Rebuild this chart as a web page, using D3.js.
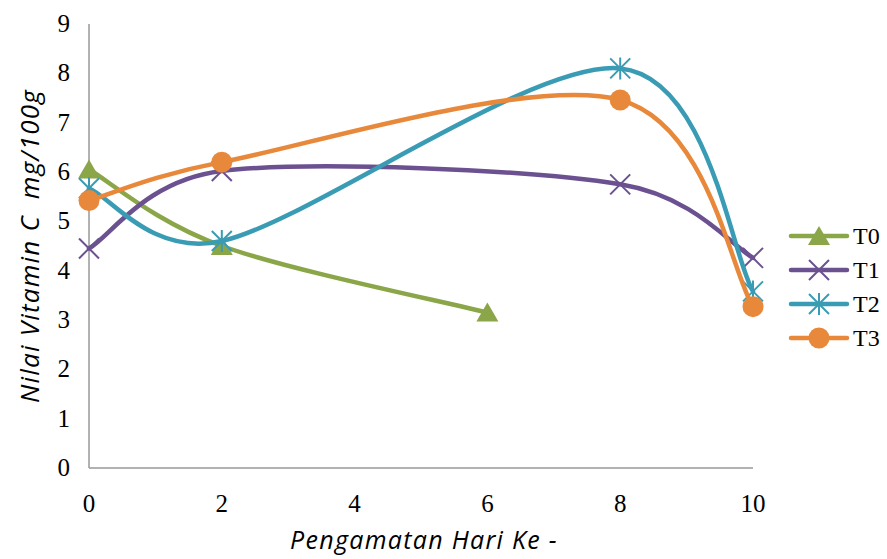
<!DOCTYPE html>
<html>
<head>
<meta charset="utf-8">
<script src="https://cdn.jsdelivr.net/npm/d3@7"></script>
<style>
  body { margin: 0; background: #fff; }
  svg { display: block; }
</style>
</head>
<body>
<svg width="887" height="559" viewBox="0 0 887 559"></svg>
<script>
// data
var seriesNames = ["T0", "T1", "T2", "T3"];
var t0 = [[0, 6.05], [2, 4.5], [6, 3.15]];
var t1 = [[0, 4.45], [2, 6.02], [8, 5.75], [10, 4.26]];
var t2 = [[0, 5.67], [2, 4.6], [8, 8.1], [10, 3.58]];
var t3 = [[0, 5.42], [2, 6.2], [8, 7.46], [10, 3.27]];
var xTicks = [0, 2, 4, 6, 8, 10];
var yTicks = [0, 1, 2, 3, 4, 5, 6, 7, 8, 9];

var colors = ["#8aa648", "#6c5191", "#3a9cb4", "#e8883a"];
var markers = ["triangle", "x", "star", "circle"];
var allSeries = [t0, t1, t2, t3];

var svg = d3.select("svg");

var x = d3.scaleLinear().domain([0, 10]).range([89, 753]);
var y = d3.scaleLinear().domain([0, 9]).range([468, 24]);

var serif = "'Liberation Serif', 'DejaVu Serif', serif";
var hand = "'Open Sans', 'DejaVu Sans', sans-serif";

// axes lines
svg.append("line")
  .attr("x1", x(0)).attr("x2", x(0))
  .attr("y1", y(9)).attr("y2", y(0))
  .attr("stroke", "#999").attr("stroke-width", 1.5);
svg.append("line")
  .attr("x1", x(0)).attr("x2", x(10))
  .attr("y1", y(0)).attr("y2", y(0))
  .attr("stroke", "#999").attr("stroke-width", 1.5);

// tick labels
svg.selectAll(".ytick")
  .data(yTicks)
  .enter()
  .append("text")
  .attr("class", "ytick")
  .attr("x", 70)
  .attr("y", function(d){ return y(d) })
  .attr("dy", 8)
  .attr("text-anchor", "end")
  .attr("font-family", serif)
  .attr("font-size", 25)
  .attr("fill", "#000")
  .text(function(d){ return d });

svg.selectAll(".xtick")
  .data(xTicks)
  .enter()
  .append("text")
  .attr("class", "xtick")
  .attr("x", function(d){ return x(d) })
  .attr("y", 512)
  .attr("text-anchor", "middle")
  .attr("font-family", serif)
  .attr("font-size", 25)
  .attr("fill", "#000")
  .text(function(d){ return d });

// axis titles
svg.append("text")
  .attr("transform", "translate(39,246) rotate(-90)")
  .attr("text-anchor", "middle")
  .attr("font-family", hand)
  .attr("font-style", "italic")
  .attr("font-size", 26)
  .attr("letter-spacing", 1.2)
  .attr("fill", "#000")
  .style("white-space", "pre")
  .text("Nilai Vitamin C  mg/100g");

svg.append("text")
  .attr("x", 424)
  .attr("y", 549)
  .attr("text-anchor", "middle")
  .attr("font-family", hand)
  .attr("font-style", "italic")
  .attr("font-size", 25)
  .attr("letter-spacing", 1.3)
  .attr("fill", "#000")
  .text("Pengamatan Hari Ke -");

// spreadsheet-style smoothing: bezier handles of 1/6, capped at half the segment
function smoothPath(data) {
  var pts = data.map(function(d){ return [x(d[0]), y(d[1])] });
  var n = pts.length;
  var p = d3.path();
  function dist(a, b) { return Math.hypot(a[0] - b[0], a[1] - b[1]) }
  p.moveTo(pts[0][0], pts[0][1]);
  for (var i = 0; i < n - 1; i++) {
    var p0 = pts[Math.max(i - 1, 0)], p1 = pts[i], p2 = pts[i + 1], p3 = pts[Math.min(i + 2, n - 1)];
    var d02 = dist(p0, p2), d12 = dist(p1, p2), d13 = dist(p1, p3);
    var f1 = (d02 / 6 < d12 / 2) ? 1 / 6 : d12 / (2 * d02);
    var f2 = (d13 / 6 < d12 / 2) ? 1 / 6 : d12 / (2 * d13);
    p.bezierCurveTo(
      p1[0] + f1 * (p2[0] - p0[0]), p1[1] + f1 * (p2[1] - p0[1]),
      p2[0] - f2 * (p3[0] - p1[0]), p2[1] - f2 * (p3[1] - p1[1]),
      p2[0], p2[1]);
  }
  return p.toString();
}

function drawMarker(g, type, cx, cy, color) {
  if (type == "triangle") {
    g.append("path")
      .attr("d", "M" + cx + "," + (cy - 10) + "L" + (cx + 11) + "," + (cy + 9) + "L" + (cx - 11) + "," + (cy + 9) + "Z")
      .attr("fill", color);
  } else if (type == "x") {
    g.append("path")
      .attr("d", "M" + (cx - 10) + "," + (cy - 10) + "L" + (cx + 10) + "," + (cy + 10) + "M" + (cx + 10) + "," + (cy - 10) + "L" + (cx - 10) + "," + (cy + 10))
      .attr("stroke", color).attr("stroke-width", 2);
  } else if (type == "star") {
    g.append("path")
      .attr("d", "M" + (cx - 10) + "," + (cy - 10) + "L" + (cx + 10) + "," + (cy + 10) + "M" + (cx + 10) + "," + (cy - 10) + "L" + (cx - 10) + "," + (cy + 10) + "M" + cx + "," + (cy - 11) + "L" + cx + "," + (cy + 11))
      .attr("stroke", color).attr("stroke-width", 2);
  } else {
    g.append("circle")
      .attr("cx", cx).attr("cy", cy).attr("r", 10.5)
      .attr("fill", color);
  }
}

// series
allSeries.forEach(function(data, i) {
  var g = svg.append("g");
  g.append("path")
    .attr("d", smoothPath(data))
    .attr("fill", "none")
    .attr("stroke", colors[i])
    .attr("stroke-width", 4.5)
    .attr("stroke-linecap", "round");
  data.forEach(function(d) {
    drawMarker(g, markers[i], x(d[0]), y(d[1]), colors[i]);
  });
});

// legend
var legend = svg.append("g");
seriesNames.forEach(function(name, i) {
  var ly = 236 + i * 34;
  legend.append("line")
    .attr("x1", 791).attr("x2", 847)
    .attr("y1", ly).attr("y2", ly)
    .attr("stroke", colors[i]).attr("stroke-width", 4.5)
    .attr("stroke-linecap", "round");
  drawMarker(legend, markers[i], 819, ly, colors[i]);
  legend.append("text")
    .attr("x", 853)
    .attr("y", ly)
    .attr("dy", 8)
    .attr("font-family", serif)
    .attr("font-size", 24)
    .attr("fill", "#000")
    .text(name);
});
</script>
</body>
</html>
